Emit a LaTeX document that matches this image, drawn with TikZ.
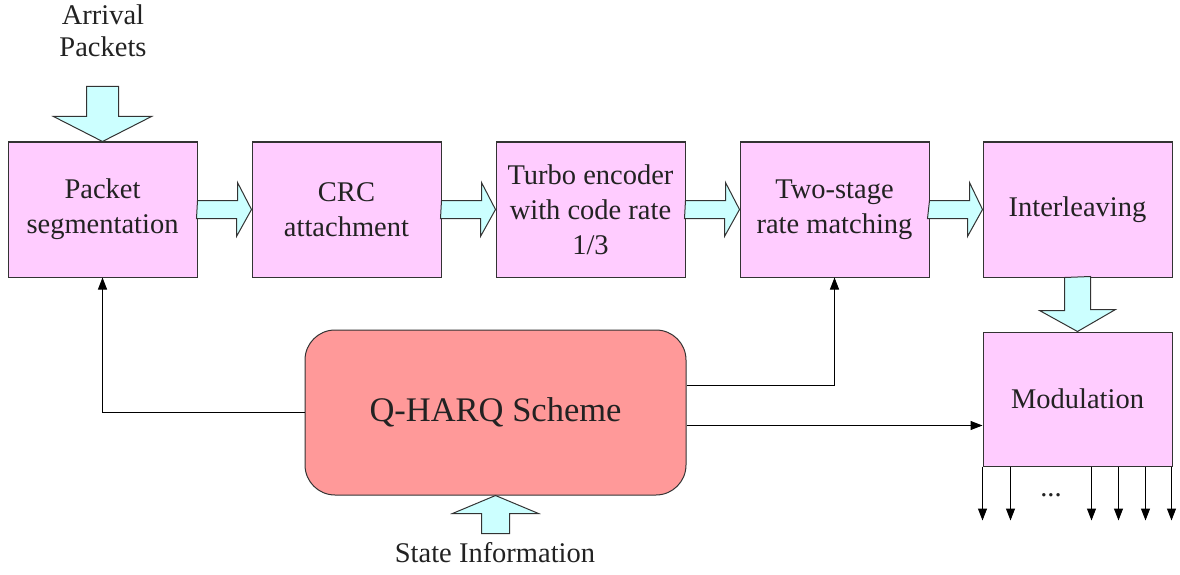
\documentclass[tikz,border=0pt]{standalone}
\usepackage{fontspec}
\setmainfont{Liberation Serif}
\usepackage{tikz}
\usetikzlibrary{arrows.meta}

\tikzset{
	block/.style={draw=custgray, line width=1pt, fill=custpink, minimum width=189pt, minimum height=135pt,
		align=center, inner sep=0pt, text=custtext, font=\fontsize{28.5pt}{35pt}\selectfont},
	fatarrow/.style={draw=custgray, line width=1pt, fill=custcyan, line join=miter},
	link/.style={draw=black, line width=1pt, -{Triangle[length=12pt,width=9pt]}},
	label/.style={inner sep=0pt, align=center, text=custtext, font=\fontsize{28.5pt}{32pt}\selectfont}
}

% right-pointing fat arrow between two neighbouring blocks
\newcommand{\pipe}[2]{\draw[fatarrow] (#1.east) ++(0,-9) -- ++(40,0) -- ++(0,-18) -- (#2.west) -- ++(-15,27) -- ++(0,-18) -- ++(-40,0) -- cycle;}

\begin{document}
\begin{tikzpicture}[x=1pt,y=-1pt]
	\definecolor{custpink}{RGB}{255, 204, 255}
	\definecolor{custred}{RGB}{255, 153, 153}
	\definecolor{custcyan}{RGB}{204, 255, 255}
	\definecolor{custgray}{RGB}{51, 51, 51}
	\definecolor{custtext}{RGB}{34, 34, 34}
	\useasboundingbox (0,0) rectangle (1180,575);

	% transmitter chain
	\node[block] (seg) at (102.5,209.5) {Packet\\segmentation};
	\node[block] (crc) at (346.5,209.5) {CRC\\attachment};
	\node[block] (turbo) at (590.5,209.5) {Turbo encoder\\with code rate\\1/3};
	\node[block] (rate) at (834.5,209.5) {Two-stage\\rate matching};
	\node[block] (ilv) at (1077.5,209.5) {Interleaving};
	\node[block, minimum height=134pt] (mod) at (1077.5,399) {Modulation};

	\node[draw=custgray, line width=1pt, fill=custred, rounded corners=30pt, minimum width=381pt, minimum height=165pt,
		text=custtext, font=\fontsize{34.5pt}{40pt}\selectfont] (q) at (495.5,412.5) {Q-HARQ Scheme};

	\node[label] (arrival) at (103,31) {Arrival\\Packets};
	\node[label] (state) at (495,553) {State Information};
	\node[label] (dots) at (1051,495) {...};

	% fat arrows
	\draw[fatarrow] (seg.north) -- ++(-49,-25) -- ++(33,0) -- ++(0,-30) -- ++(32,0) -- ++(0,30) -- ++(33,0) -- cycle;
	\pipe{seg}{crc}
	\pipe{crc}{turbo}
	\pipe{turbo}{rate}
	\pipe{rate}{ilv}
	\draw[fatarrow] (ilv.south) ++(-13,0) -- ++(0,33) -- ++(-25,0) -- (mod.north) -- ++(38,-22) -- ++(-25,0) -- ++(0,-33) -- cycle;
	\draw[fatarrow] (q.south) -- ++(43,18) -- ++(-29,0) -- ++(0,20) -- ++(-28,0) -- ++(0,-20) -- ++(-29,0) -- cycle;

	% control lines from the scheme
	\draw[link] (q.west) -| (seg.south);
	\draw[link] ([shift={(0,-27)}]q.east) -| (rate.south);
	\draw[link] ([shift={(0,13)}]q.east) coordinate (qout) -- (qout -| mod.west);

	% modulated outputs
	\foreach \dx in {0,28,109,136,163,189}
		\draw[link] ([xshift=\dx pt]mod.south west) -- ++(0,54);
\end{tikzpicture}
\end{document}
